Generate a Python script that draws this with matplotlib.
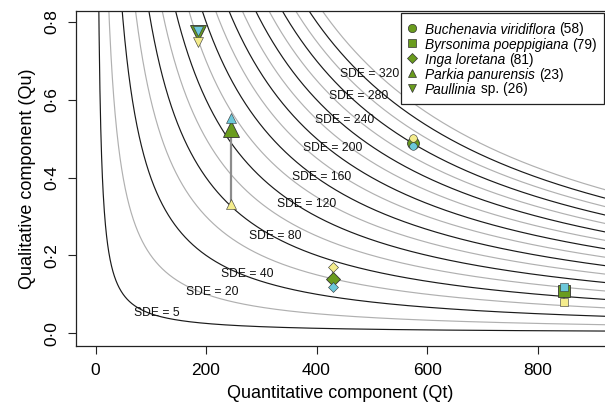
import numpy as np
import matplotlib
matplotlib.use('Agg')
import matplotlib.pyplot as plt
from matplotlib.patches import Rectangle

plt.rcParams['font.family'] = 'Liberation Sans'

# species, sample sizes and marker shapes
species = ['Buchenavia viridiflora', 'Byrsonima poeppigiana', 'Inga loretana',
           'Parkia panurensis', 'Paullinia']
suffix = ['(58)', '(79)', '(81)', '(23)', 'sp. (26)']
markers = ['o', 's', 'D', '^', 'v']

# quantitative component and three estimates of the qualitative component
qt = [574, 848, 430, 245, 185]
qu_mean = [0.488, 0.109, 0.139, 0.524, 0.771]
qu_blue = [0.481, 0.119, 0.118, 0.553, 0.777]
qu_yellow = [0.501, 0.080, 0.170, 0.332, 0.748]

# SDE isolines (black = labelled every 40, grey in between)
sde_black = [5, 40, 80, 120, 160, 200, 240, 280, 320]
sde_grey = [20, 60, 100, 140, 180, 220, 260, 300, 340]

# isoline labels and where they sit
lab_sde = [5, 20, 40, 80, 120, 160, 200, 240, 280, 320]
lab_x = [111, 211, 274, 325, 382, 409, 430, 450, 476, 496]
lab_y = [0.052, 0.105, 0.153, 0.249, 0.332, 0.402, 0.475, 0.549, 0.610, 0.666]

green = '#6a9c1e'
blue = '#6cc8da'
yellow = '#f4ec8c'
edge = '#333333'

W, H = 605, 411
fig = plt.figure(figsize=(W / 100, H / 100), dpi=100)
ax = fig.add_axes([76 / W, 65 / H, 529 / W, 335 / H])

def fx(px):
    return px / W

def fy(py):
    return 1 - py / H

xs = np.linspace(1, 1000, 2000)
for s in sde_grey:
    ax.plot(xs, s / xs, color='#b0b0b0', lw=0.85, zorder=1)
for s in sde_black:
    ax.plot(xs, s / xs, color='#1a1a1a', lw=0.85, zorder=1)

for s, x, y in zip(lab_sde, lab_x, lab_y):
    ax.text(x, y, f'SDE = {s}', fontsize=8.7, ha='center', va='center', color='#111111', zorder=2)

for i in range(len(species)):
    ax.plot([qt[i], qt[i]], [qu_blue[i], qu_yellow[i]], color='#8c8c8c', lw=1.6, zorder=3)
    big = 12 if markers[i] in ('^', 'v') else 8.5
    if markers[i] == 'D':
        big = 7.5
    ax.plot(qt[i], qu_mean[i], marker=markers[i], ms=big, mfc=green, mec=edge, mew=0.6,
            ls='none', zorder=4)
    small = 7 if markers[i] in ('^', 'v') else 5.5
    ax.plot(qt[i], qu_blue[i], marker=markers[i], ms=small, mfc=blue, mec=edge, mew=0.4,
            ls='none', zorder=5)
    ax.plot(qt[i], qu_yellow[i], marker=markers[i], ms=small, mfc=yellow, mec=edge, mew=0.4,
            ls='none', zorder=5)

ax.set_xlim(-35.3, 922)
ax.set_ylim(-0.033, 0.828)
ax.set_xticks([0, 200, 400, 600, 800])
ax.set_yticks([0.0, 0.2, 0.4, 0.6, 0.8])
ax.set_yticklabels(['0\u00b70', '0\u00b72', '0\u00b74', '0\u00b76', '0\u00b78'],
                   rotation=90, va='center')
ax.tick_params(labelsize=12.5, length=6, width=0.8, color='#222222', pad=6)
for sp in ax.spines.values():
    sp.set_linewidth(0.9)
    sp.set_color('#222222')
ax.spines['right'].set_visible(False)

ax.set_xlabel('Quantitative component (Qt)', fontsize=13, labelpad=5)
ax.set_ylabel('Qualitative component (Qu)', fontsize=13, labelpad=6)

# legend drawn by hand: italic name followed by upright count
fig.patches.append(Rectangle((fx(401), fy(104)), fx(604) - fx(401), fy(13) - fy(104),
                             transform=fig.transFigure, facecolor='white', edgecolor='#222222',
                             lw=0.9, zorder=10))
fig.canvas.draw()
renderer = fig.canvas.get_renderer()
for i in range(len(species)):
    py = 28 + 15 * i
    fig.add_artist(plt.Line2D([fx(412)], [fy(py)], marker=markers[i], ls='none',
                              ms=6 if markers[i] != 'D' else 5.5, mfc=green, mec=edge, mew=0.5,
                              transform=fig.transFigure, zorder=11))
    t = fig.text(fx(425), fy(py), species[i], fontsize=9.9, style='italic',
                 va='center_baseline', ha='left', zorder=11)
    bb = t.get_window_extent(renderer)
    fig.text(bb.x1 / fig.dpi / fig.get_figwidth() + fx(4), fy(py), suffix[i], fontsize=9.9,
             va='center_baseline', ha='left', zorder=11)

fig.savefig('out.png', dpi=100)
